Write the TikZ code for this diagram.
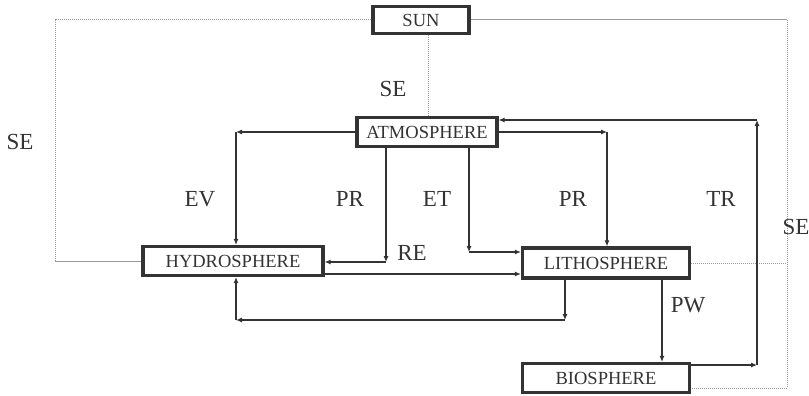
\documentclass[tikz,border=0pt]{standalone}
\usepackage{fontspec}
\setmainfont{Liberation Serif}
\usetikzlibrary{arrows.meta,calc}
\definecolor{ink}{HTML}{333333}
\definecolor{lgray}{HTML}{9A9A9A}
\tikzset{
  sphere/.style={draw=ink, line width=3.2pt, fill=white, inner sep=0pt, text=ink,
    font=\fontsize{18.5}{18.5}\selectfont, minimum height=29pt},
  lbl/.style={text=ink, font=\fontsize{23}{23}\selectfont, inner sep=0pt},
  arr/.style={draw=ink, line width=1.1pt, -{Latex[length=6pt,width=5pt]}},
  ln/.style={draw=ink, line width=1.1pt},
  dotln/.style={draw=lgray, line width=1pt, densely dotted},
  grln/.style={draw=lgray, line width=1pt}
}
\begin{document}
\begin{tikzpicture}[x=1pt,y=-1pt]
\useasboundingbox (0,0) rectangle (809,396);
% boxes
\node[sphere, minimum width=96pt, minimum height=27pt] (sun) at (421,20) {SUN};
\node[sphere, minimum width=140pt] (atm) at (427,132) {ATMOSPHERE};
\node[sphere, minimum width=180pt] (hyd) at (233,261) {HYDROSPHERE};
\node[sphere, minimum width=167pt, minimum height=30pt] (lit) at (606,263) {LITHOSPHERE};
\node[sphere, minimum width=167pt] (bio) at (606,378) {BIOSPHERE};
% helper coordinates
\coordinate (tl) at (55,20);
\coordinate (tr) at (787,20);
\coordinate (bl) at (55,261);
\coordinate (br) at (787,388);
\coordinate (evc) at (236,132);
\coordinate (prl) at (386,262);
\coordinate (et) at (469,252);
\coordinate (prr) at (607,132);
\coordinate (trb) at (757,365);
\coordinate (trt) at (757,120);
\coordinate (hl) at (330,274);
\coordinate (lp) at (565,320);
\coordinate (lq) at (236,320);
\coordinate (pw) at (662,300);
% outer solar energy frame
\draw[dotln] (sun.west) -- (tl) -- (bl);
\draw[grln] (bl) -- (hyd.west);
\draw[grln] (sun.east) -- (tr);
\draw[dotln] (tr) -- (br) -- (br -| bio.east);
\draw[dotln] (lit.east) -- (lit.east -| tr);
\draw[dotln] (sun.south -| 428,0) -- (atm.north -| 428,0);
% EV
\draw[arr] (atm.west) -- (evc);
\draw[arr] (evc) -- (evc |- hyd.north);
% PR left / RE
\draw[arr] (prl |- atm.south) -- (prl);
\draw[arr] (prl) -- (prl -| hyd.east);
% ET
\draw[arr] (et |- atm.south) -- (et);
\draw[arr] (et) -- (et -| lit.west);
% PR right
\draw[arr] (atm.east) -- (prr);
\draw[arr] (prr) -- (prr |- lit.north);
% TR
\draw[arr] (trb -| bio.east) -- (trb);
\draw[arr] (trb) -- (trt);
\draw[arr] (trt) -- (trt -| atm.east);
% hydro -> litho
\draw[arr] (hl -| hyd.east) -- (hl -| lit.west);
% litho -> hydro loop
\draw[arr] (lp |- lit.south) -- (lp);
\draw[arr] (lp) -- (lq);
\draw[arr] (lq) -- (lq |- hyd.south);
% PW
\draw[arr] (pw |- lit.south) -- (pw |- bio.north);
% labels
\node[lbl] (se1) at (393,89) {SE};
\node[lbl] (se2) at (20,142) {SE};
\node[lbl] (se3) at (796,227) {SE};
\node[lbl] (ev) at (200,199) {EV};
\node[lbl] (pr1) at (350,199) {PR};
\node[lbl] (etl) at (437,199) {ET};
\node[lbl] (pr2) at (573,199) {PR};
\node[lbl] (trl) at (721,199) {TR};
\node[lbl] (re) at (412,253) {RE};
\node[lbl] (pwl) at (688,305) {PW};
\end{tikzpicture}
\end{document}
